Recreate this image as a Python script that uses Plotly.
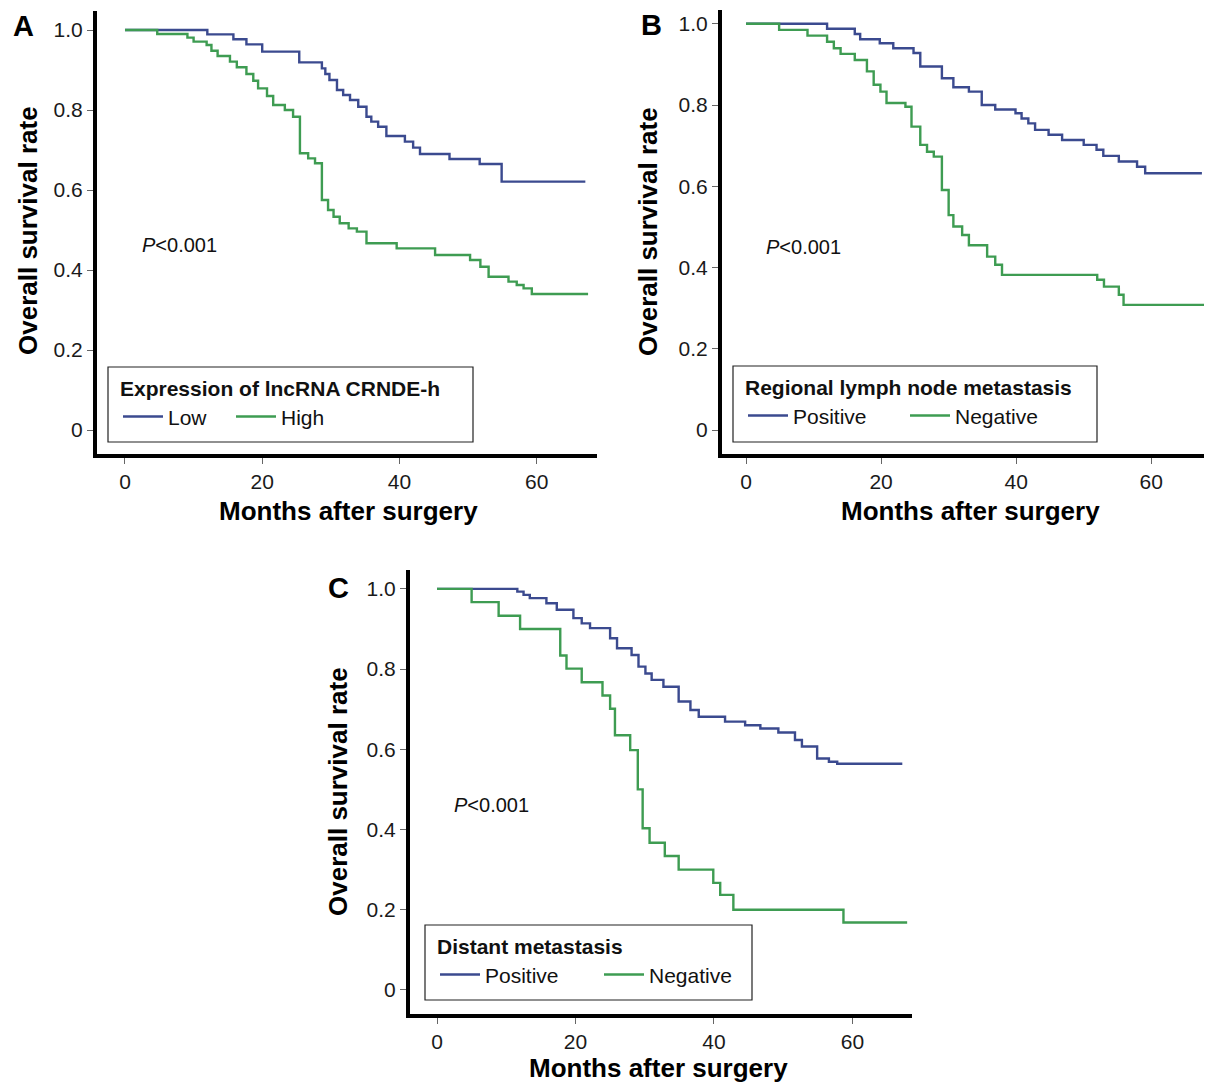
import plotly.graph_objects as go

# ---------------- data ----------------
# Panel A: Expression of lncRNA CRNDE-h
a_low_t = [0, 12.0, 15.8, 17.7, 20.0, 25.4, 28.7, 29.2, 29.8, 30.9, 31.8, 32.8, 34.0, 35.2,
           35.9, 36.9, 38.1, 40.8, 42.0, 43.0, 47.3, 51.7, 54.9, 67.1]
a_low_s = [1.0, 0.989, 0.977, 0.964, 0.946, 0.919, 0.904, 0.89, 0.875, 0.85, 0.8375, 0.825, 0.808,
           0.783, 0.771, 0.758, 0.735, 0.721, 0.706, 0.69, 0.6775, 0.665, 0.621, 0.621]
a_high_t = [0, 4.7, 9.1, 10.0, 11.9, 12.6, 13.5, 15.3, 16.3, 17.7, 18.7, 19.4, 20.7, 21.6, 23.3,
            24.5, 25.5, 26.7, 27.7, 28.7, 29.6, 30.4, 31.3, 32.6, 33.8, 35.2, 39.6, 45.2, 50.3,
            51.8, 53.0, 55.9, 57.1, 58.1, 59.3, 67.5]
a_high_s = [1.0, 0.99, 0.981, 0.971, 0.9625, 0.948, 0.935, 0.921, 0.907, 0.89, 0.873, 0.854, 0.835,
            0.8125, 0.8, 0.783, 0.692, 0.679, 0.667, 0.575, 0.55, 0.533, 0.517, 0.504, 0.496, 0.467,
            0.454, 0.4375, 0.425, 0.408, 0.383, 0.371, 0.3625, 0.354, 0.34, 0.34]

# Panel B: Regional lymph node metastasis
b_pos_t = [0, 12.0, 16.1, 16.9, 19.8, 21.8, 24.8, 25.8, 29.0, 30.7, 33.0, 34.9, 36.9, 39.9, 40.8,
           41.8, 42.8, 44.8, 46.8, 50.0, 51.9, 52.9, 55.2, 57.9, 59.1, 67.5]
b_pos_s = [1.0, 0.988, 0.975, 0.962, 0.952, 0.94, 0.928, 0.895, 0.866, 0.844, 0.833, 0.8, 0.789,
           0.78, 0.767, 0.755, 0.739, 0.727, 0.714, 0.702, 0.69, 0.675, 0.661, 0.648, 0.632, 0.632]
b_neg_t = [0, 4.9, 9.1, 12.0, 13.0, 14.0, 16.1, 17.9, 18.9, 19.9, 20.8, 23.6, 24.5, 25.8, 26.8,
           27.8, 29.0, 30.0, 30.7, 32.0, 33.0, 35.7, 36.9, 37.9, 52.0, 53.0, 55.2, 55.9, 68.0]
b_neg_s = [1.0, 0.985, 0.971, 0.956, 0.94, 0.926, 0.911, 0.883, 0.85, 0.833, 0.805, 0.796, 0.747,
           0.702, 0.685, 0.673, 0.591, 0.529, 0.501, 0.48, 0.455, 0.427, 0.407, 0.382, 0.37, 0.353,
           0.333, 0.308, 0.308]

# Panel C: Distant metastasis
c_pos_t = [0, 11.6, 12.5, 13.4, 15.8, 17.3, 19.7, 20.9, 22.1, 25.0, 26.0, 28.1, 29.1, 30.1, 31.0,
           32.7, 34.9, 36.6, 37.8, 41.6, 44.5, 46.7, 49.3, 51.7, 52.7, 54.9, 56.6, 57.8, 67.2]
c_pos_s = [1.0, 0.993, 0.985, 0.977, 0.964, 0.948, 0.927, 0.914, 0.902, 0.877, 0.852, 0.835, 0.806,
           0.789, 0.773, 0.756, 0.719, 0.698, 0.681, 0.669, 0.66, 0.652, 0.642, 0.623, 0.607, 0.577,
           0.569, 0.564, 0.564]
c_neg_t = [0, 5.0, 8.9, 12.0, 17.8, 18.7, 20.9, 23.9, 25.0, 25.7, 27.9, 29.0, 29.7, 30.7, 32.9,
           34.9, 39.9, 40.9, 42.8, 58.7, 67.9]
c_neg_s = [1.0, 0.967, 0.933, 0.9, 0.834, 0.801, 0.767, 0.734, 0.701, 0.635, 0.598, 0.5, 0.403,
           0.367, 0.334, 0.3, 0.267, 0.237, 0.2, 0.168, 0.168]

x_ticks = [0, 20, 40, 60]
y_ticks = [0, 0.2, 0.4, 0.6, 0.8, 1.0]
y_tick_text = ["0", "0.2", "0.4", "0.6", "0.8", "1.0"]

panel_letters = ["A", "B", "C"]
legend_titles = ["Expression of lncRNA CRNDE-h", "Regional lymph node metastasis", "Distant metastasis"]
x_title = "Months after surgery"
y_title = "Overall survival rate"
p_text = "<i>P</i>&lt;0.001"

# ---------------- style ----------------
OFF = 8                      # page body margin of the browser
W, H = 1212 - OFF, 1084 - OFF
FONT = "Arial, Liberation Sans, sans-serif"
BLUE = "#3b4a8f"
GREEN = "#3e9c52"


def px_x(v):
    return (v - OFF) / W


def px_y(v):
    return 1 - (v - OFF) / H


fig = go.Figure()

series = [
    (a_low_t, a_low_s, "Low", BLUE, "x", "y", "legend"),
    (a_high_t, a_high_s, "High", GREEN, "x", "y", "legend"),
    (b_pos_t, b_pos_s, "Positive", BLUE, "x2", "y2", "legend2"),
    (b_neg_t, b_neg_s, "Negative", GREEN, "x2", "y2", "legend2"),
    (c_pos_t, c_pos_s, "Positive", BLUE, "x3", "y3", "legend3"),
    (c_neg_t, c_neg_s, "Negative", GREEN, "x3", "y3", "legend3"),
]
for t, s, name, col, xa, ya, lg in series:
    fig.add_trace(go.Scatter(
        x=t, y=s, mode="lines", name=name, line=dict(color=col, width=2.4, shape="hv"),
        xaxis=xa, yaxis=ya, legend=lg, hoverinfo="skip"))

axis_common = dict(showline=True, linewidth=4, linecolor="black", showgrid=False, zeroline=False,
                   ticks="outside", ticklen=6, tickwidth=1, tickcolor="#666",
                   tickfont=dict(family=FONT, size=21, color="#1a1a1a"), fixedrange=True)

# panel geometry (reference pixels): x-domain, y-domain (top, bottom), x-range, y-range
panels = [
    dict(xd=(97, 597), yd=(11, 454), xr=(-4.08, 68.8), yr=(-0.06, 1.0475)),
    dict(xd=(722, 1210), yd=(10, 454), xr=(-3.56, 68.7), yr=(-0.059, 1.034)),
    dict(xd=(410, 912), yd=(570, 1014), xr=(-3.9, 68.6), yr=(-0.06, 1.047)),
]
layout = {}
for i, p in enumerate(panels):
    sx = "" if i == 0 else str(i + 1)
    layout["xaxis" + sx] = dict(axis_common, domain=[px_x(p["xd"][0]), min(1, px_x(p["xd"][1]))],
                                range=list(p["xr"]), tickvals=x_ticks, anchor="y" + sx)
    layout["yaxis" + sx] = dict(axis_common, domain=[px_y(p["yd"][1]), px_y(p["yd"][0])],
                                range=list(p["yr"]), tickvals=y_ticks, ticktext=y_tick_text,
                                anchor="x" + sx)

# legend boxes (reference pixels: left, top, right, bottom) and entry widths
legend_boxes = [(108, 367, 473, 442), (733, 366, 1097, 442), (425, 925, 752, 1000)]
legend_entry_w = [58, 107, 109]
shapes = []
for i, (l, t, r, b) in enumerate(legend_boxes):
    key = "legend" if i == 0 else "legend" + str(i + 1)
    shapes.append(dict(type="rect", xref="paper", yref="paper", x0=px_x(l), x1=px_x(r),
                       y0=px_y(b), y1=px_y(t), line=dict(color="#222", width=1.2),
                       fillcolor="white", layer="above"))
    layout[key] = dict(orientation="h", xanchor="left", yanchor="top", x=px_x(l + 10),
                       y=px_y(t + 2), bgcolor="rgba(0,0,0,0)", borderwidth=0,
                       font=dict(family=FONT, size=21, color="#111"), itemwidth=40,
                       entrywidth=legend_entry_w[i],
                       title=dict(text="<b>" + legend_titles[i] + "</b>", side="top",
                                  font=dict(family=FONT, size=21, color="#111")))

annotations = []
letter_pos = [(23, 26), (651, 25), (338, 588)]
ytitle_pos = [(28, 231), (648, 232), (338, 792)]
xtitle_pos = [(348, 511), (970, 511), (658, 1068)]
p_pos = [(2.2, 0.4625), (2.7, 0.45), (2.2, 0.461)]
for i in range(3):
    sx = "" if i == 0 else str(i + 1)
    annotations.append(dict(text="<b>" + panel_letters[i] + "</b>", x=px_x(letter_pos[i][0]),
                            y=px_y(letter_pos[i][1]), xref="paper", yref="paper", showarrow=False,
                            xanchor="center", yanchor="middle",
                            font=dict(family=FONT, size=29, color="black")))
    annotations.append(dict(text="<b>" + y_title + "</b>", x=px_x(ytitle_pos[i][0]),
                            y=px_y(ytitle_pos[i][1]), xref="paper", yref="paper", showarrow=False,
                            textangle=-90, xanchor="center", yanchor="middle",
                            font=dict(family=FONT, size=26, color="black")))
    annotations.append(dict(text="<b>" + x_title + "</b>", x=px_x(xtitle_pos[i][0]),
                            y=px_y(xtitle_pos[i][1]), xref="paper", yref="paper", showarrow=False,
                            xanchor="center", yanchor="middle",
                            font=dict(family=FONT, size=26, color="black")))
    annotations.append(dict(text=p_text, x=p_pos[i][0], y=p_pos[i][1], xref="x" + sx, yref="y" + sx,
                            showarrow=False, xanchor="left", yanchor="middle",
                            font=dict(family=FONT, size=20, color="#111")))

fig.update_layout(width=W, height=H, margin=dict(l=0, r=0, t=0, b=0, autoexpand=False),
                  paper_bgcolor="white", plot_bgcolor="white", showlegend=True,
                  annotations=annotations, shapes=shapes, **layout)

fig.write_html("out.html")
